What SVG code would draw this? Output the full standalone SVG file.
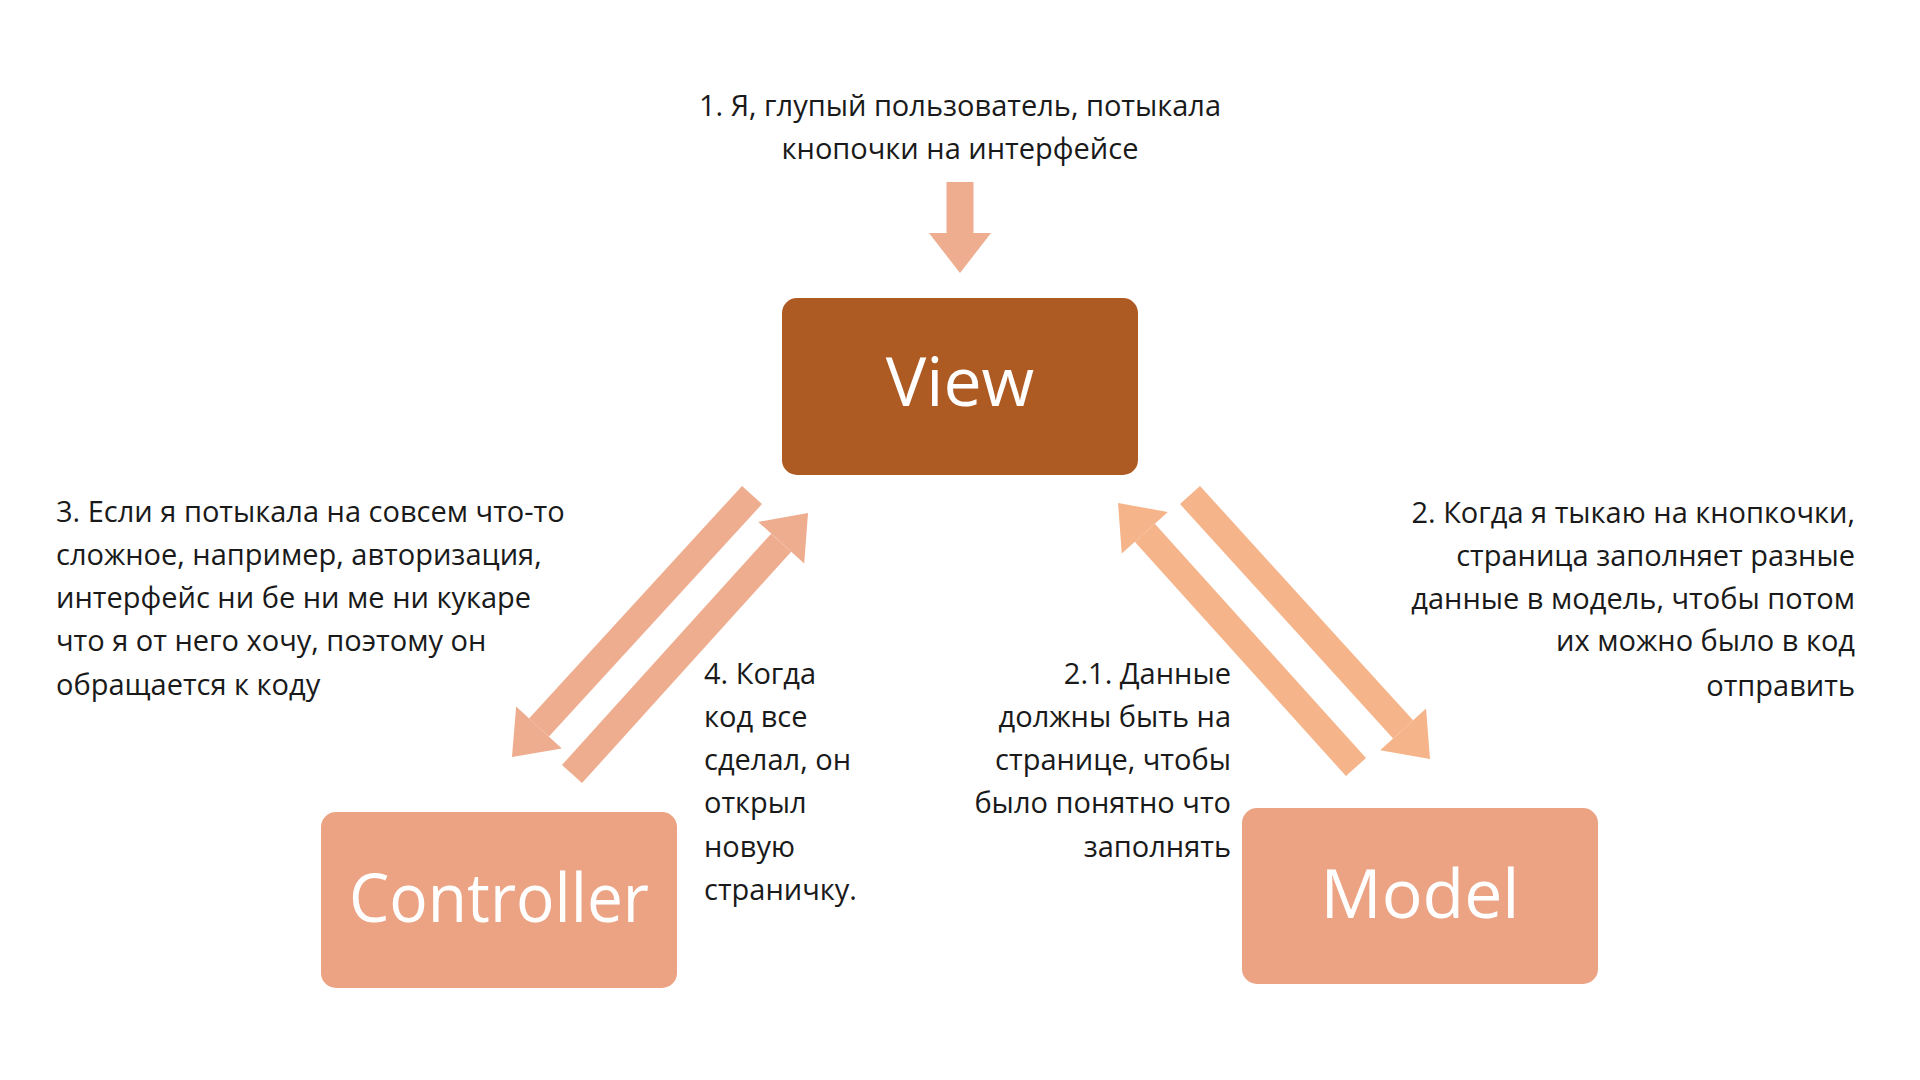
<svg xmlns="http://www.w3.org/2000/svg" width="1920" height="1080" viewBox="0 0 1920 1080">
<style>
.t{font-family:"Open Sans","Noto Sans",sans-serif;font-size:29px;fill:#1a1a1a}
.big{font-family:"Open Sans","Noto Sans",sans-serif;fill:#fff}
.a1{stroke:#EFAD8F;stroke-width:27;fill:none}
.a2{stroke:#F5B48A;stroke-width:27;fill:none}
</style>
<defs>
<marker id="h1" markerUnits="userSpaceOnUse" orient="auto" refX="0" refY="0" markerWidth="60" markerHeight="80" viewBox="0 -40 50 80" overflow="visible"><path d="M0,-31 L40,0 L0,31 z" fill="#EFAD8F"/></marker>
<marker id="h2" markerUnits="userSpaceOnUse" orient="auto" refX="0" refY="0" markerWidth="60" markerHeight="80" viewBox="0 -40 50 80" overflow="visible"><path d="M0,-31 L40,0 L0,31 z" fill="#F5B48A"/></marker>
</defs>
<rect width="1920" height="1080" fill="#fff"/>
<g id="connectors">
<line class="a1" x1="960" y1="182" x2="960" y2="233" marker-end="url(#h1)"/>
<line class="a1" x1="752" y1="495" x2="539" y2="727.5" marker-end="url(#h1)"/>
<line class="a1" x1="572" y1="774" x2="781.2" y2="542.7" marker-end="url(#h1)"/>
<line class="a2" x1="1190" y1="495" x2="1403.1" y2="729.4" marker-end="url(#h2)"/>
<line class="a2" x1="1356" y1="767" x2="1144.8" y2="532.7" marker-end="url(#h2)"/>
</g>
<g id="view"><rect x="782" y="298" width="356" height="177" rx="15" fill="#AE5A23"/><text class="big" x="960" y="406" font-size="68" text-anchor="middle">View</text></g>
<g id="controller"><rect x="321" y="812" width="356" height="176" rx="15" fill="#EBA384"/><text class="big" x="499" y="922" font-size="68" text-anchor="middle" textLength="300" lengthAdjust="spacingAndGlyphs">Controller</text></g>
<g id="model"><rect x="1242" y="808" width="356" height="176" rx="15" fill="#EBA384"/><text class="big" x="1420" y="918" font-size="68" text-anchor="middle">Model</text></g>
<g id="labels">
<text class="t" text-anchor="middle"><tspan x="960" y="116">1. Я, глупый пользователь, потыкала</tspan><tspan x="960" y="159">кнопочки на интерфейсе</tspan></text>
<text class="t"><tspan x="56" y="522">3. Если я потыкала на совсем что-то</tspan><tspan x="56" y="565">сложное, например, авторизация,</tspan><tspan x="56" y="608">интерфейс ни бе ни ме ни кукаре</tspan><tspan x="56" y="651">что я от него хочу, поэтому он</tspan><tspan x="56" y="695">обращается к коду</tspan></text>
<text class="t"><tspan x="704" y="684">4. Когда</tspan><tspan x="704" y="727">код все</tspan><tspan x="704" y="770">сделал, он</tspan><tspan x="704" y="813">открыл</tspan><tspan x="704" y="857">новую</tspan><tspan x="704" y="900">страничку.</tspan></text>
<text class="t" text-anchor="end"><tspan x="1231" y="684">2.1. Данные</tspan><tspan x="1231" y="727">должны быть на</tspan><tspan x="1231" y="770">странице, чтобы</tspan><tspan x="1231" y="813">было понятно что</tspan><tspan x="1231" y="857">заполнять</tspan></text>
<text class="t" text-anchor="end"><tspan x="1855" y="523">2. Когда я тыкаю на кнопкочки,</tspan><tspan x="1855" y="566">страница заполняет разные</tspan><tspan x="1855" y="609">данные в модель, чтобы потом</tspan><tspan x="1855" y="651">их можно было в код</tspan><tspan x="1855" y="696">отправить</tspan></text>
</g>
</svg>
